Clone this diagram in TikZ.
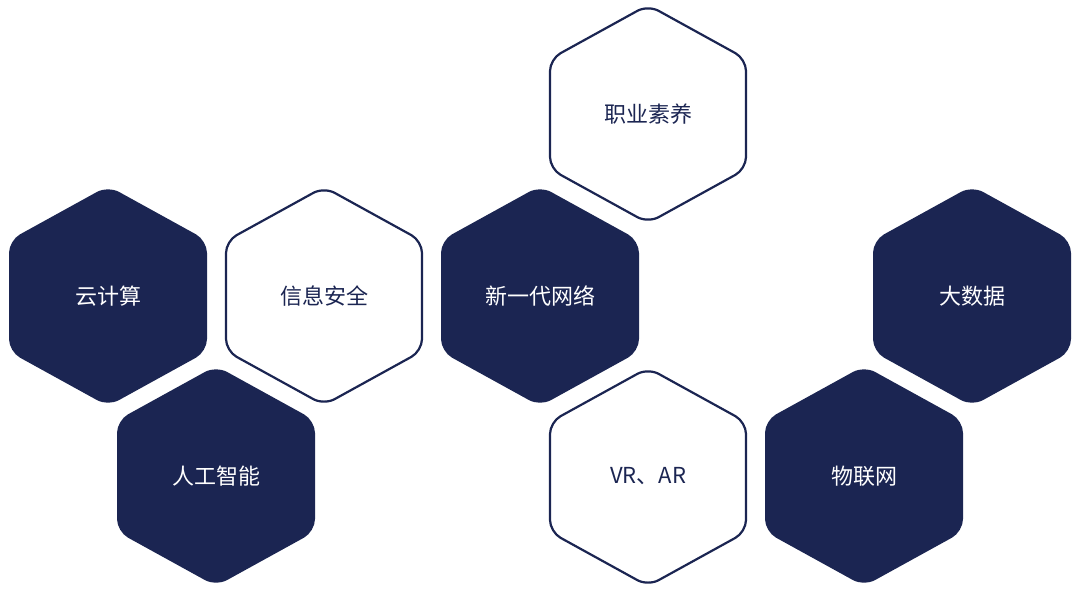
\documentclass[tikz,border=0pt]{standalone}
\usepackage{fontspec}
\setmainfont{Noto Sans CJK SC}
\definecolor{navy}{HTML}{1B2552}
\begin{document}
\begin{tikzpicture}[x=1pt,y=-1pt,
  hexfill/.style={fill=navy,draw=navy,line width=2pt,rounded corners=12pt},
  hexline/.style={fill=white,draw=navy,line width=2.2pt,rounded corners=12pt},
  lbl/.style={font=\fontsize{22}{26}\selectfont}]
\useasboundingbox (0,0) rectangle (1078,592);
\newcommand{\hexat}[4]{%
  \draw[#3] (#1,#2-109) -- (#1+98,#2-55) -- (#1+98,#2+55) -- (#1,#2+109) -- (#1-98,#2+55) -- (#1-98,#2-55) -- cycle;
  \node[lbl,text=#4] at (#1,#2) {};}
\draw[hexline] (648,5) -- (746,59) -- (746,169) -- (648,223) -- (550,169) -- (550,59) -- cycle;
\node[lbl,text=navy] (a) at (648,114) {职业素养};
\draw[hexfill] (108,187) -- (206,241) -- (206,351) -- (108,405) -- (10,351) -- (10,241) -- cycle;
\node[lbl,text=white] (b) at (108,296) {云计算};
\draw[hexline] (324,187) -- (422,241) -- (422,351) -- (324,405) -- (226,351) -- (226,241) -- cycle;
\node[lbl,text=navy] (c) at (324,296) {信息安全};
\draw[hexfill] (540,187) -- (638,241) -- (638,351) -- (540,405) -- (442,351) -- (442,241) -- cycle;
\node[lbl,text=white] (d) at (540,296) {新一代网络};
\draw[hexfill] (972,187) -- (1070,241) -- (1070,351) -- (972,405) -- (874,351) -- (874,241) -- cycle;
\node[lbl,text=white] (e) at (972,296) {大数据};
\draw[hexfill] (216,367) -- (314,421) -- (314,531) -- (216,585) -- (118,531) -- (118,421) -- cycle;
\node[lbl,text=white] (f) at (216,476) {人工智能};
\draw[hexline] (648,368) -- (746,422) -- (746,532) -- (648,586) -- (550,532) -- (550,422) -- cycle;
\node[lbl,text=navy] (g) at (648,476) {VR、AR};
\draw[hexfill] (864,367) -- (962,421) -- (962,531) -- (864,585) -- (766,531) -- (766,421) -- cycle;
\node[lbl,text=white] (h) at (864,476) {物联网};
\end{tikzpicture}
\end{document}
